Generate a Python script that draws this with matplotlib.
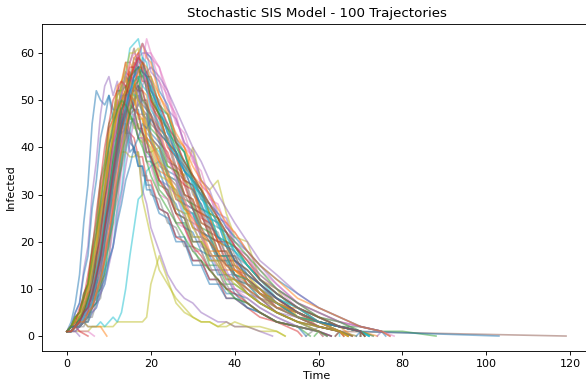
import matplotlib.pyplot as plt

# Shared time grid of the simulation output (t = 0..20 every 1, then coarser)
time_grid = [0, 1, 2, 3, 4, 5, 6, 7, 8, 9, 10, 11, 12, 13, 14, 15, 16, 17, 18, 19, 20,
             22, 24, 26, 28, 30, 32, 34, 36, 38, 40,
             43, 46, 50, 55, 60, 65, 70, 75, 80, 85]

# Infected counts for each trajectory, read along time_grid until extinction
runs = [
    [1, 3, 7, 13, 24, 32, 45, 52, 50, 49, 51, 46, 47, 43, 44, 39, 40, 36, 36, 32, 32, 27, 26, 21, 21, 16, 16, 12, 12, 9, 9, 6, 5, 3, 2, 1],
    [1, 2, 2, 4, 5, 9, 11, 17, 22, 31, 36, 44, 47, 53, 54, 58, 56, 57, 52, 51, 46, 44, 38, 36, 30, 29, 24, 23, 18, 18, 14, 13, 9, 8, 4, 3, 1],
    [1, 2, 4, 3, 7, 8, 14, 18, 27, 32, 41, 43, 49, 48, 50, 46, 46, 42, 41, 37, 37, 31, 29, 24, 24, 19, 18, 14, 14, 10, 10, 7, 5, 3, 2],
    [1, 2, 2, 3, 6, 7, 12, 15, 23, 28, 37, 41, 48, 51, 56, 55, 57, 53, 52, 48, 47, 41, 39, 34, 32, 27, 26, 21, 20, 16, 16, 11, 10, 6, 5, 2, 1],
    [1, 2, 5, 7, 14, 19, 30, 37, 47, 53, 55, 51, 54, 49, 49, 45, 46, 42, 42, 38, 38, 33, 32, 27, 26, 21, 21, 17, 17, 13, 13, 9, 8, 5, 4, 2, 1],
    [1, 1, 2, 4, 4, 7, 8, 14, 17, 25, 30, 39, 43, 50, 52, 56, 53, 53, 48, 47, 42, 40, 34, 32, 27, 26, 21, 20, 16, 16, 12, 11, 8, 7, 4, 3, 1],
    [1, 1, 2, 2, 3, 5, 5, 8, 9, 14, 16, 23, 27, 35, 39, 47, 50, 56, 56, 60, 59, 57, 52, 46, 41, 38, 32, 30, 25, 24, 19, 17, 12, 10, 6, 4, 2, 1],
    [1, 2, 3, 3, 6, 7, 13, 16, 24, 29, 38, 42, 49, 51, 55, 54, 54, 49, 48, 43, 42, 36, 35, 29, 28, 23, 22, 17, 17, 13, 12, 10, 7, 5, 3, 2],
    [1, 1, 1, 1, 1, 1, 2, 2, 2, 2, 2, 2, 3, 3, 3, 3, 3, 3, 3, 4, 11, 17, 12, 7, 5, 4, 3, 3, 2, 3, 2, 2, 1, 1],
    [1, 1, 2, 2, 3, 2, 2, 2, 3, 2, 3, 4, 3, 5, 10, 17, 23, 29, 30, 35, 36, 37, 32, 31, 26, 26, 21, 20, 16, 16, 12, 11, 8, 6, 4, 2, 1],
    [1, 1, 2, 2, 4, 4, 7, 8, 14, 17, 25, 29, 37, 41, 48, 50, 56, 59, 62, 60, 59, 52, 49, 42, 39, 33, 31, 25, 24, 19, 18, 13, 11, 7, 5, 3, 2, 1],
    [1, 2, 3, 3, 5, 6, 10, 13, 21, 26, 35, 40, 48, 50, 55, 52, 52, 47, 47, 42, 41, 35, 34, 29, 28, 23, 22, 17, 17, 13, 12, 10, 8, 6, 6, 3, 2],
    [1, 1, 2, 3, 3, 6, 7, 11, 13, 20, 24, 32, 37, 45, 48, 54, 55, 59, 56, 55, 50, 47, 41, 39, 33, 32, 27, 26, 21, 20, 16, 14, 11, 8, 5, 3, 2, 2, 1, 1],
    [1, 2, 4, 5, 9, 11, 18, 22, 31, 36, 44, 46, 50, 47, 47, 43, 42, 38, 38, 33, 33, 27, 26, 21, 20, 16, 16, 12, 12, 8, 8, 6, 4, 3, 1],
    [1, 1, 1],
    [1, 1, 3, 3, 6, 8, 13, 17, 26, 31, 40, 44, 51, 53, 58, 58, 61, 57, 57, 52, 51, 44, 42, 36, 34, 28, 27, 22, 21, 17, 17, 12, 10, 7, 5, 3, 2, 1],
    [1, 1, 2, 1, 1, 1],
    [1, 1, 2, 2, 5, 5, 10, 12, 19, 23, 31, 36, 44, 47, 53, 55, 59, 58, 58, 54, 53, 46, 44, 38, 36, 30, 28, 23, 22, 17, 17, 12, 10, 8, 5, 3, 2, 1],
    [1, 2, 2, 4, 4, 7, 9, 14, 17, 25, 29, 36, 39, 44, 44, 47, 44, 45, 41, 42, 39, 40, 36, 35, 34, 40, 33, 31, 33, 26, 21, 20, 12, 10, 4, 3, 1],
    [1, 1, 2, 2, 3, 3, 5, 6, 9, 11, 16, 19, 27, 31, 39, 43, 50, 52, 56, 53, 53, 48, 47, 41, 39, 32, 30, 24, 23, 22, 18, 15, 12, 8, 6, 3, 2, 1],
    [1, 1, 2, 3, 3, 6, 7, 11, 13, 20, 24, 32, 36, 44, 47, 52, 52, 53, 49, 48, 43, 41, 35, 34, 28, 27, 22, 21, 17, 17, 13, 12, 9, 7, 5, 3, 2, 1],
    [1, 1, 2, 2, 3, 2, 2, 2, 2],
    [1, 2, 4, 5, 9, 11, 19, 24, 33, 37, 45, 47, 52, 52, 53, 49, 48, 44, 43, 39, 38, 32, 31, 26, 25, 20, 20, 15, 15, 11, 11, 9, 7, 5, 3, 1],
    [1, 2, 2, 3, 3, 5, 6, 10, 12, 18, 21, 29, 33, 41, 45, 52, 53, 57, 54, 54, 49, 46, 40, 38, 32, 31, 25, 24, 20, 19, 15, 13, 11, 8, 5, 3, 1],
    [1, 2, 2, 4, 5, 9, 11, 18, 22, 30, 34, 41, 43, 47, 44, 43, 39, 38, 31, 28, 23, 18, 13, 10, 8, 7, 5, 4, 3, 3, 2, 2, 1],
    [1, 1, 2, 2, 4, 5, 8, 10, 16, 19, 27, 32, 40, 44, 51, 53, 58, 57, 57, 52, 50, 43, 41, 35, 33, 27, 26, 21, 20, 15, 15, 11, 9, 6, 4, 2, 1],
    [1, 1, 2, 3, 3, 5, 6, 9, 11, 17, 20, 28, 32, 40, 44, 51, 53, 58, 58, 63, 60, 57, 50, 47, 40, 38, 32, 30, 25, 24, 19, 17, 13, 10, 7, 4, 3, 2, 1],
    [1, 2, 3, 5, 6, 10, 12, 19, 23, 31, 34, 41, 42, 46, 43, 43, 39, 39, 34, 34, 30, 29, 24, 23, 19, 19, 15, 15, 11, 11, 8, 7, 5, 3, 2, 1],
    [1, 1, 2, 3, 5, 8, 12, 17, 22, 27, 31, 35, 37, 39, 39, 38, 38, 39, 29, 25, 21, 14, 11, 8, 6, 4, 3, 3, 2, 2, 3, 2, 2, 1],
    [1, 2, 2, 4, 4, 7, 9, 14, 17, 25, 30, 39, 44, 52, 55, 61, 62, 63, 59, 58, 52, 49, 43, 41, 35, 33, 27, 26, 21, 20, 16, 14, 11, 8, 6, 4, 2, 1],
    [1, 2, 5, 7, 13, 17, 27, 33, 42, 46, 51, 48, 48, 45, 45, 41, 40, 36, 36, 31, 31, 26, 25, 20, 20, 15, 15, 11, 11, 8, 8, 6, 5, 3, 2],
    [1, 1, 2, 2, 4, 4, 7, 8, 14, 17, 25, 29, 38, 42, 50, 53, 59, 60, 62, 59, 58, 51, 48, 42, 40, 34, 32, 26, 25, 20, 19, 15, 12, 9, 6, 4, 2, 1],
    [1, 2, 2, 4, 4, 7, 8, 13, 16, 24, 28, 37, 41, 48, 50, 55, 54, 55, 50, 49, 44, 42, 36, 35, 29, 28, 23, 22, 17, 17, 13, 12, 9, 7, 4, 3, 2, 1],
    [1, 2, 2, 1],
    [1, 1, 2, 4, 4, 7, 8, 13, 15, 22, 26, 34, 38, 46, 49, 54, 55, 59, 60, 60, 56, 54, 48, 46, 41, 39, 33, 31, 26, 25, 20, 18, 15, 11, 7, 5, 3, 2, 1],
    [1, 1, 2, 3, 3, 5, 6, 9, 10, 16, 19, 27, 31, 39, 42, 48, 49, 53, 50, 50, 45, 43, 37, 36, 30, 29, 24, 23, 18, 18, 14, 12, 10, 7, 4, 2, 1],
    [1, 2, 3, 4, 7, 9, 15, 19, 28, 33, 41, 44, 50, 50, 51, 47, 47, 42, 42, 37, 36, 30, 29, 24, 23, 18, 18, 14, 14, 10, 10, 7, 5, 3, 2, 1],
    [1, 1, 1, 2, 2, 4, 4, 7, 8, 14, 17, 25, 29, 37, 41, 48, 50, 55, 55, 56, 52, 50, 44, 42, 36, 34, 29, 28, 23, 22, 17, 15, 12, 9, 6, 3, 2, 1],
    [1, 2, 2, 4, 5, 8, 10, 16, 20, 29, 34, 43, 47, 54, 56, 60, 60, 61, 56, 55, 50, 47, 41, 39, 33, 31, 26, 25, 20, 19, 15, 13, 10, 7, 5, 3, 1],
    [1, 1, 2, 3, 3, 6, 7, 11, 13, 20, 24, 33, 37, 45, 47, 52, 51, 51, 47, 46, 41, 39, 34, 33, 27, 26, 22, 21, 17, 17, 13, 12, 9, 7, 4, 3, 1],
    [1, 2, 2, 4, 5, 8, 11, 17, 21, 29, 34, 42, 45, 51, 51, 52, 48, 48, 43, 42, 37, 35, 30, 28, 23, 22, 18, 17, 13, 13, 9, 8, 6, 4, 2, 1],
    [1, 2, 4, 5, 8, 11, 17, 21, 30, 35, 43, 46, 53, 54, 58, 55, 54, 50, 49, 44, 43, 37, 35, 30, 29, 24, 23, 18, 18, 14, 14, 11, 9, 6, 4, 2, 1],
    [1, 1, 2, 2, 3, 3, 6, 7, 11, 13, 20, 24, 32, 36, 44, 47, 53, 54, 58, 55, 55, 49, 47, 41, 39, 33, 31, 26, 25, 20, 19, 15, 12, 9, 6, 4, 2, 1],
    [1, 2, 2, 4, 5, 9, 10, 17, 21, 29, 33, 41, 44, 50, 52, 57, 57, 60, 56, 55, 50, 47, 41, 39, 33, 32, 26, 25, 20, 20, 16, 14, 11, 8, 5, 3, 2, 1],
    [1, 1, 2, 3, 3, 6, 8, 12, 15, 23, 27, 36, 40, 48, 50, 55, 52, 52, 47, 46, 41, 38, 32, 30, 25, 24, 19, 18, 14, 14, 10, 9, 7, 5, 3, 1],
    [1, 2, 3, 3, 6, 7, 11, 13, 20, 24, 32, 35, 42, 44, 48, 47, 48, 44, 44, 39, 39, 33, 31, 26, 25, 20, 20, 16, 16, 12, 12, 9, 7, 5, 3, 2, 1],
    [1, 1, 2, 2, 4, 4, 7, 8, 14, 17, 24, 28, 36, 40, 48, 51, 57, 59, 62, 60, 60, 54, 51, 45, 43, 37, 35, 29, 28, 23, 22, 18, 14, 11, 7, 5, 3, 2, 1],
    [1, 2, 2, 4, 4, 7, 8, 12, 14, 21, 25, 33, 37, 44, 46, 51, 50, 51, 47, 47, 42, 40, 34, 33, 28, 27, 22, 21, 17, 17, 13, 11, 9, 6, 4, 2, 1],
    [1, 2, 4, 4, 8, 10, 16, 20, 29, 34, 42, 45, 51, 52, 55, 51, 51, 46, 46, 41, 40, 34, 33, 27, 26, 21, 21, 16, 16, 12, 12, 9, 7, 5, 3, 1],
    [1, 1, 2, 2, 4, 4, 7, 8, 12, 14, 21, 25, 33, 38, 46, 49, 55, 56, 59, 55, 54, 47, 45, 39, 37, 32, 30, 25, 24, 19, 19, 15, 12, 9, 6, 4, 2, 1],
    [1, 1, 2, 2, 3, 4, 6, 7, 10, 12, 16, 19, 24, 28, 33, 36, 40, 42, 45, 44, 46, 43, 41, 38, 35, 33, 30, 28, 26, 23, 21, 18, 15, 12, 9, 6, 4, 2, 1],
    [1, 2, 3, 5, 7, 10, 15, 19, 26, 31, 38, 42, 47, 49, 52, 51, 50, 47, 46, 42, 41, 37, 33, 31, 27, 25, 22, 20, 18, 15, 14, 12, 9, 7, 5, 3, 1],
    [1, 1, 2, 4, 5, 8, 10, 15, 19, 26, 31, 38, 42, 48, 51, 55, 56, 57, 55, 53, 51, 47, 44, 40, 37, 34, 31, 28, 25, 22, 20, 17, 14, 10, 7, 4, 3, 1],
    [1, 2, 3, 6, 8, 13, 18, 26, 33, 40, 45, 50, 52, 54, 53, 51, 48, 47, 43, 41, 38, 33, 30, 26, 23, 19, 17, 14, 12, 10, 9, 7, 5, 3, 2, 1],
    [1, 1, 1, 2, 3, 3, 5, 6, 9, 11, 15, 19, 25, 30, 36, 41, 46, 50, 53, 56, 57, 55, 52, 48, 44, 40, 37, 33, 30, 27, 24, 20, 16, 13, 9, 6, 4, 2, 1],
    [1, 2, 2, 3, 5, 7, 9, 13, 17, 23, 28, 34, 39, 44, 47, 50, 53, 52, 52, 49, 47, 42, 38, 34, 30, 27, 23, 20, 17, 15, 13, 10, 8, 5, 3, 2, 1],
    [1, 1, 2, 3, 4, 6, 10, 14, 20, 26, 33, 40, 46, 51, 55, 58, 60, 59, 57, 53, 49, 43, 38, 33, 29, 25, 21, 18, 15, 12, 10, 8, 6, 4, 2, 1],
    [1, 1, 2, 2, 3, 4, 6, 9, 12, 16, 21, 26, 31, 36, 40, 44, 47, 49, 50, 48, 47, 44, 42, 39, 36, 33, 30, 27, 24, 22, 19, 16, 13, 10, 7, 5, 3, 1],
    [1, 2, 3, 4, 6, 9, 14, 19, 25, 31, 37, 43, 47, 50, 52, 54, 53, 50, 48, 45, 42, 38, 34, 30, 27, 23, 20, 18, 15, 13, 11, 9, 7, 5, 3, 2, 1],
    [1, 1, 2, 3, 4, 7, 9, 14, 18, 25, 30, 36, 41, 46, 49, 52, 54, 55, 53, 52, 48, 45, 41, 38, 35, 33, 29, 27, 24, 21, 18, 15, 12, 9, 6, 3, 2, 1],
    [1, 2, 2, 3, 5, 6, 9, 12, 17, 22, 28, 34, 40, 45, 48, 52, 55, 57, 56, 55, 52, 48, 43, 39, 35, 31, 28, 24, 21, 19, 16, 13, 11, 8, 5, 3, 2, 1],
    [1, 1, 2, 3, 3, 5, 6, 9, 12, 16, 22, 27, 34, 39, 44, 49, 53, 56, 58, 57, 55, 51, 47, 43, 40, 36, 33, 30, 27, 24, 22, 18, 15, 12, 8, 6, 4, 2, 1],
    [1, 2, 4, 5, 8, 11, 16, 22, 28, 35, 40, 45, 48, 50, 49, 47, 45, 42, 40, 37, 34, 30, 27, 24, 21, 18, 16, 14, 12, 10, 8, 7, 5, 3, 2, 1],
    [1, 1, 2, 3, 5, 6, 9, 13, 17, 23, 29, 35, 41, 46, 51, 54, 57, 59, 58, 56, 54, 49, 45, 41, 37, 34, 31, 28, 25, 22, 19, 16, 12, 9, 6, 4, 2, 1],
]

# Time at which each trajectory reaches zero infected
end_times = [63, 68, 58, 67, 69, 119, 73, 57, 52, 68,
             72, 68, 88, 56, 3, 71, 6.5, 70, 69, 72,
             103, 9.5, 59, 66, 49, 67, 77, 62, 52, 71,
             57, 74, 70, 5, 77, 64, 62, 71, 67, 65,
             63, 67, 73, 70, 61, 68, 78, 66, 61, 72,
             76, 66, 71, 63, 74, 64, 61, 70, 67, 72,
             69, 77, 62, 71]

fig = plt.figure(figsize=(586 / 80, 381 / 80), dpi=80)
ax = fig.add_axes([0.0717, 0.079, 0.9368, 0.858])

for i, values in enumerate(runs):
    t = time_grid[:len(values)] + [end_times[i]]
    y = values + [0]
    ax.plot(t, y, alpha=0.5, color=f"C{i % 10}")

ax.set_title("Stochastic SIS Model - 100 Trajectories")
ax.set_xlabel("Time", labelpad=2)
ax.set_ylabel("Infected")

fig.savefig("out.png", dpi=80)
